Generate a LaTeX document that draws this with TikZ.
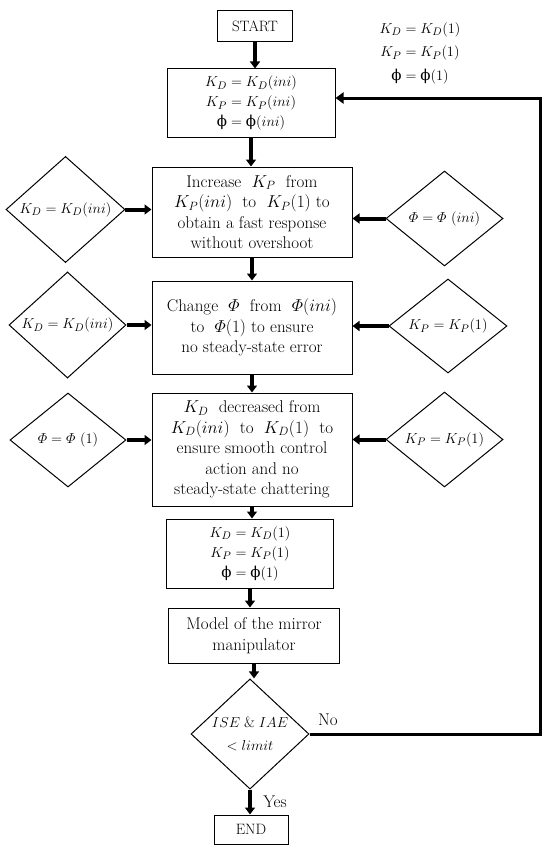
\documentclass[tikz,border=0pt]{standalone}
\usepackage{amsmath}
\usepackage{fontspec}
\newfontfamily\grkfont{DejaVu Serif}
\usetikzlibrary{shapes.geometric,arrows.meta}
\newcommand{\phiup}{\mbox{\grkfont ϕ}}

\begin{document}
\begin{tikzpicture}[x=1pt, y=-1pt, font=\fontsize{15}{20}\selectfont]
  \tikzstyle{box}=[rectangle, draw, line width=1pt, align=center, inner sep=0pt]
  \tikzstyle{cond}=[diamond, draw, line width=1pt, align=center, inner sep=0pt]
  \tikzstyle{big}=[font=\fontsize{17}{20.5}\selectfont]
  \tikzstyle{arr}=[line width=4pt, -{Triangle[length=7pt, width=10pt]}]
  \tikzstyle{back}=[line width=3pt, -{Triangle[length=8pt, width=11pt]}]

  \useasboundingbox (0,0) rectangle (550,851);

  \node[box, minimum width=75pt, minimum height=31pt] (00) at (255, 26.5) {START};
  \node[align=center, font=\fontsize{15}{23.5}\selectfont] (01) at (420, 53) {$K_D = K_D(1)$\\ $K_P = K_P(1)$\\ $\phiup = \phiup(1)$};

  \node[box, minimum width=168pt, minimum height=68pt] (10) at (251, 103) {$K_D = K_D(ini)$\\ $K_P = K_P(ini)$\\ $\phiup = \phiup(ini)$};

  \node[box, big, minimum width=200pt, minimum height=90pt] (20) at (252, 212) {Increase~ $K_P$~ from\\ $K_P(ini)$~ to~ $K_P(1)$ to\\ obtain a fast response\\ without overshoot};
  \node[cond, minimum width=119pt, minimum height=95pt] (21) at (65.5, 209.5) {$K_D = K_D(ini)$};
  \node[cond, minimum width=117pt, minimum height=95pt] (22) at (444.5, 218.5) {$\varPhi = \varPhi~(ini)$};

  \node[box, big, minimum width=200pt, minimum height=93pt] (30) at (252, 327.5) {Change~ $\varPhi$~ from~ $\varPhi(ini)$\\ to~ $\varPhi(1)$ to ensure\\ no steady-state error};
  \node[cond, minimum width=117pt, minimum height=96pt] (31) at (67.5, 325) {$K_D = K_D(ini)$};
  \node[cond, minimum width=118pt, minimum height=94pt] (32) at (448, 326) {$K_P = K_P(1)$};

  \node[box, big, minimum width=200pt, minimum height=113pt] (40) at (252, 449.5) {$K_D$~ decreased from\\ $K_D(ini)$~ to~ $K_D(1)$~ to\\ ensure smooth control\\ action and no\\ steady-state chattering};
  \node[cond, minimum width=116pt, minimum height=94pt] (41) at (68, 440) {$\varPhi = \varPhi~(1)$};
  \node[cond, minimum width=117pt, minimum height=95pt] (42) at (444.5, 439.5) {$K_P = K_P(1)$};

  \node[box, minimum width=167pt, minimum height=69pt] (50) at (250, 553.5) {$K_D = K_D(1)$\\ $K_P = K_P(1)$\\ $\phiup = \phiup(1)$};
  \node[box, big, minimum width=171pt, minimum height=55pt] (60) at (254, 635.5) {Model of the mirror\\ manipulator};
  \node[cond, minimum width=118pt, minimum height=98pt] (70) at (250, 734) {$ISE\;\&\;IAE$\\[3pt] $<limit$};
  \node[box, minimum width=74pt, minimum height=29pt] (80) at (251, 829.5) {END};

  \node[big] (71) at (328, 720) {No};
  \node[big] (72) at (275, 802) {Yes};

  \coordinate (c1) at (540, 98);

  \path[arr] (00) edge (00 |- 10.north);
  \path[arr] (10) edge (10 |- 20.north);
  \path[arr] (20) edge (20 |- 30.north);
  \path[arr] (30) edge (30 |- 40.north);
  \path[arr] (40) edge (40 |- 50.north);
  \path[arr] (50) edge (50 |- 60.north);
  \path[arr] (60) edge (60 |- 70.north);
  \path[arr] (70) edge (70 |- 80.north);
  \path[arr] (21) edge (21 -| 20.west);
  \path[arr] (22) edge (22 -| 20.east);
  \path[arr] (31) edge (31 -| 30.west);
  \path[arr] (32) edge (32 -| 30.east);
  \path[arr] (41) edge (41 -| 40.west);
  \path[arr] (42) edge (42 -| 40.east);
  \draw[back] (70.east) -| (c1) -- (c1 -| 10.east);
\end{tikzpicture}
\end{document}
